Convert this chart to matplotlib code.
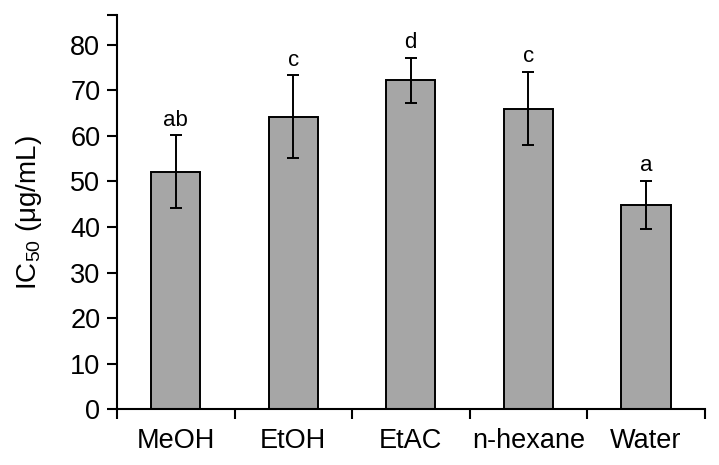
import matplotlib as mpl

mpl.use('Agg')
import matplotlib.pyplot as plt
import numpy as np

solvents = ["MeOH", "EtOH", "EtAC", "n-hexane", "Water"]
ic50 = [52.1, 64.2, 72.2, 66.0, 44.9]
sd = [8.0, 9.1, 4.9, 8.0, 5.3]
groups = ["ab", "c", "d", "c", "a"]

plt.rcParams['font.family'] = ['Liberation Sans', 'DejaVu Sans']
plt.rcParams['mathtext.fontset'] = 'custom'
plt.rcParams['mathtext.rm'] = 'Liberation Sans'
plt.rcParams['mathtext.default'] = 'regular'

fig = plt.figure(figsize=(7.19, 4.65), dpi=100)
ax = fig.add_axes([0.1627, 0.1194, 0.8173, 0.8483])

x = np.arange(len(solvents))
ax.bar(x, ic50, width=0.42, color='#a6a6a6', edgecolor='black', linewidth=1.4,
       yerr=sd, error_kw=dict(ecolor='black', elinewidth=1.4, capsize=4.5, capthick=1.4),
       zorder=2)

for xi, v, e, g in zip(x, ic50, sd, groups):
    ax.text(xi, v + e + 1.0, g, ha='center', va='bottom', fontsize=16)

ymax = 86.5
ax.set_ylim(0, ymax)
ax.set_xlim(-0.5, len(solvents) - 0.5)

ax.set_yticks(list(range(0, 81, 10)) + [ymax])
ax.set_yticklabels([str(v) for v in range(0, 81, 10)] + [''])
ax.set_xticks(x)
ax.set_xticklabels(solvents)
ax.set_xticks(np.arange(-0.5, len(solvents), 1.0), minor=True)

ax.tick_params(axis='y', direction='out', length=7, width=1.5, labelsize=19.5, pad=5)
ax.tick_params(axis='x', which='major', length=0, labelsize=19.5, pad=13)
ax.tick_params(axis='x', which='minor', direction='out', length=7, width=1.5)

for side in ['top', 'right']:
    ax.spines[side].set_visible(False)
for side in ['left', 'bottom']:
    ax.spines[side].set_linewidth(1.5)

ax.set_ylabel("IC$_{50}$ (μg/mL)", fontsize=20, labelpad=19)

fig.savefig("out.png", dpi=100)
